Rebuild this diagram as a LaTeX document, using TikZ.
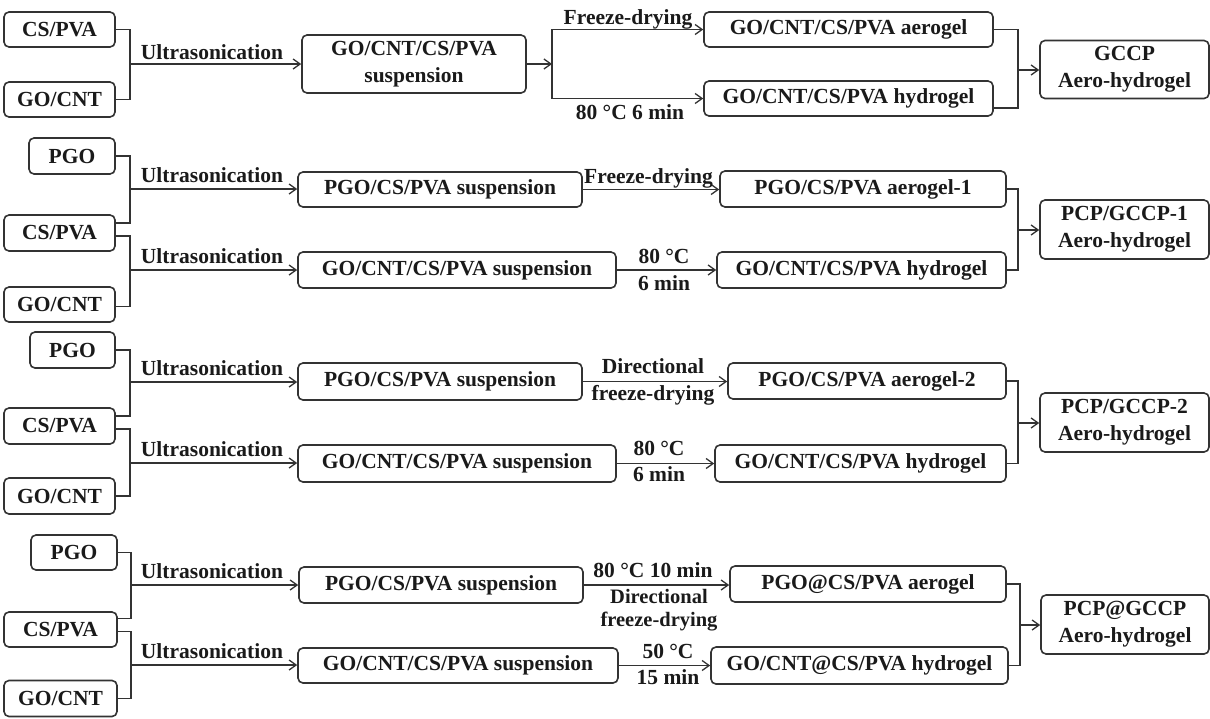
\documentclass[tikz,border=0pt]{standalone}
\usepackage{fontspec}
\setmainfont{Liberation Serif}
\usetikzlibrary{arrows.meta}
\definecolor{lc}{HTML}{333333}
\definecolor{tc}{HTML}{1A1A1A}
\newcommand\dgfont{\fontsize{21.5}{27}\selectfont\bfseries}
\newcommand\dgsmall{\fontsize{20.5}{24}\selectfont\bfseries}
\newcommand\mybox[6]{\node[box, minimum width=#4pt, minimum height=#5pt] (#1) at (#2,#3) {#6};}
\newcommand\mylbl[4]{\node[lbl] (#1) at (#2,#3) {#4};}
\begin{document}
\begin{tikzpicture}[x=1pt,y=-1pt,
  box/.style={draw=lc, line width=1.6pt, rounded corners=5pt, inner sep=0pt, align=center, text=tc, font=\dgfont},
  lbl/.style={inner sep=0pt, anchor=base, text=tc, font=\dgfont, align=center},
  conn/.style={draw=lc, line width=1.6pt},
  arr/.style={conn, -{Straight Barb[length=7pt,width=10pt,line width=1.3pt]}}]
\useasboundingbox[fill=white] (0,0) rectangle (1210,718);

% ---------- Row 1 ----------
\mybox{cs1}{59.5}{29.5}{111}{35}{CS/PVA}
\mybox{go1}{59.5}{99.5}{111}{35}{GO/CNT}
\mybox{sus1}{414}{64}{224}{58}{GO/CNT/CS/PVA\\suspension}
\mybox{aer1}{848.5}{29.5}{289}{35}{GO/CNT/CS/PVA aerogel}
\mybox{hyd1}{848.5}{98.5}{289}{35}{GO/CNT/CS/PVA hydrogel}
\mybox{gccp}{1124.5}{69.5}{169}{58}{GCCP\\Aero-hydrogel}
\coordinate (j1) at (130,64);
\coordinate (s1) at (552,64);
\coordinate (m1) at (1018,70);
\draw[conn] (cs1.east) -| (j1);
\draw[conn] (go1.east) -| (j1);
\draw[arr] (j1) -- (j1 -| sus1.west);
\draw[arr] (sus1.east) -- (s1);
\draw[arr] (s1) |- (aer1.west);
\draw[arr] (s1) |- (hyd1.west);
\draw[conn] (aer1.east) -| (m1);
\draw[conn] ([yshift=-9.5pt]hyd1.east) -| (m1);
\draw[arr] (m1) -- (m1 -| gccp.west);
\mylbl{u1}{212}{59}{Ultrasonication}
\mylbl{f1}{628}{24}{Freeze-drying}
\mylbl{t1}{630}{119}{80 °C 6 min}

% ---------- Row 2 ----------
\mybox{pgo2}{72}{156}{86}{36}{PGO}
\mybox{cs2}{59.5}{233}{111}{36}{CS/PVA}
\mybox{go2}{59.5}{304.5}{111}{35}{GO/CNT}
\mybox{sus2a}{440}{189.5}{284}{35}{PGO/CS/PVA suspension}
\mybox{sus2b}{457}{270}{318}{36}{GO/CNT/CS/PVA suspension}
\mybox{aer2}{863}{189}{286}{36}{PGO/CS/PVA aerogel-1}
\mybox{hyd2}{861.5}{270}{289}{36}{GO/CNT/CS/PVA hydrogel}
\mybox{pcp1}{1124.5}{229.5}{169}{59}{PCP/GCCP-1\\Aero-hydrogel}
\coordinate (j2a) at (130,189);
\coordinate (j2b) at (130,270);
\coordinate (m2) at (1018,230);
\draw[conn] (pgo2.east) -| (j2a);
\draw[conn] ([yshift=10pt]cs2.east) -| (j2a);
\draw[conn] ([yshift=-3pt]cs2.east) -| (j2b);
\draw[conn] ([yshift=-2pt]go2.east) -| (j2b);
\draw[arr] (j2a) -- (j2a -| sus2a.west);
\draw[arr] (j2b) -- (j2b -| sus2b.west);
\draw[arr] (sus2a.east) -- (sus2a.east -| aer2.west);
\draw[arr] (sus2b.east) -- (sus2b.east -| hyd2.west);
\draw[conn] (aer2.east) -| (m2);
\draw[conn] (hyd2.east) -| (m2);
\draw[arr] (m2) -- (m2 -| pcp1.west);
\mylbl{u2a}{212}{182}{Ultrasonication}
\mylbl{u2b}{212}{263}{Ultrasonication}
\mylbl{f2}{648.5}{183}{Freeze-drying}
\mylbl{t2a}{664}{263}{80 °C}
\mylbl{t2b}{664}{290}{6 min}

% ---------- Row 3 ----------
\mybox{pgo3}{72.5}{350}{85}{36}{PGO}
\mybox{cs3}{59.5}{426}{111}{36}{CS/PVA}
\mybox{go3}{59.5}{496}{111}{36}{GO/CNT}
\mybox{sus3a}{440}{381.5}{284}{37}{PGO/CS/PVA suspension}
\mybox{sus3b}{457}{463.5}{318}{37}{GO/CNT/CS/PVA suspension}
\mybox{aer3}{867}{381}{278}{36}{PGO/CS/PVA aerogel-2}
\mybox{hyd3}{860.5}{463.5}{291}{37}{GO/CNT/CS/PVA hydrogel}
\mybox{pcp2}{1124.5}{422.5}{169}{59}{PCP/GCCP-2\\Aero-hydrogel}
\coordinate (j3a) at (130,382);
\coordinate (j3b) at (130,463);
\coordinate (m3) at (1018,423);
\draw[conn] (pgo3.east) -| (j3a);
\draw[conn] ([yshift=10pt]cs3.east) -| (j3a);
\draw[conn] ([yshift=-3pt]cs3.east) -| (j3b);
\draw[conn] (go3.east) -| (j3b);
\draw[arr] (j3a) -- (j3a -| sus3a.west);
\draw[arr] (j3b) -- (j3b -| sus3b.west);
\draw[arr] (sus3a.east) -- (sus3a.east -| aer3.west);
\draw[arr] (sus3b.east) -- (sus3b.east -| hyd3.west);
\draw[conn] (aer3.east) -| (m3);
\draw[conn] (hyd3.east) -| (m3);
\draw[arr] (m3) -- (m3 -| pcp2.west);
\mylbl{u3a}{212}{375}{Ultrasonication}
\mylbl{u3b}{212}{456}{Ultrasonication}
\mylbl{d3a}{653}{373}{Directional}
\mylbl{d3b}{653}{400}{freeze-drying}
\mylbl{t3a}{659}{455}{80 °C}
\mylbl{t3b}{659}{481}{6 min}

% ---------- Row 4 ----------
\mybox{pgo4}{74}{552.5}{86}{35}{PGO}
\mybox{cs4}{60.5}{629.5}{113}{35}{CS/PVA}
\mybox{go4}{60.5}{698.5}{113}{36}{GO/CNT}
\mybox{sus4a}{441}{585}{284}{36}{PGO/CS/PVA suspension}
\mybox{sus4b}{458}{665.5}{320}{35}{GO/CNT/CS/PVA suspension}
\mybox{aer4}{868}{584}{276}{36}{PGO@CS/PVA aerogel}
\mybox{hyd4}{859.5}{665.5}{297}{37}{GO/CNT@CS/PVA hydrogel}
\mybox{pcp3}{1125}{624.5}{168}{59}{PCP@GCCP\\Aero-hydrogel}
\coordinate (j4a) at (131,585);
\coordinate (j4b) at (131,665);
\coordinate (m4) at (1020,625);
\draw[conn] (pgo4.east) -| (j4a);
\draw[conn] ([yshift=11pt]cs4.east) -| (j4a);
\draw[conn] ([yshift=-2pt]cs4.east) -| (j4b);
\draw[conn] (go4.east) -| (j4b);
\draw[arr] (j4a) -- (j4a -| sus4a.west);
\draw[arr] (j4b) -- (j4b -| sus4b.west);
\draw[arr] (sus4a.east) -- (sus4a.east -| aer4.west);
\draw[arr] (sus4b.east) -- (sus4b.east -| hyd4.west);
\draw[conn] (aer4.east) -| (m4);
\draw[conn] (hyd4.east) -| (m4);
\draw[arr] (m4) -- (m4 -| pcp3.west);
\mylbl{u4a}{212}{578}{Ultrasonication}
\mylbl{u4b}{212}{658}{Ultrasonication}
\mylbl{t4a}{653}{577}{80 °C 10 min}
\node[lbl, font=\dgsmall] (d4a) at (659,603) {Directional};
\node[lbl, font=\dgsmall] (d4b) at (659,626) {freeze-drying};
\mylbl{t4b}{668}{658}{50 °C}
\mylbl{t4c}{668}{684}{15 min}
\end{tikzpicture}
\end{document}
